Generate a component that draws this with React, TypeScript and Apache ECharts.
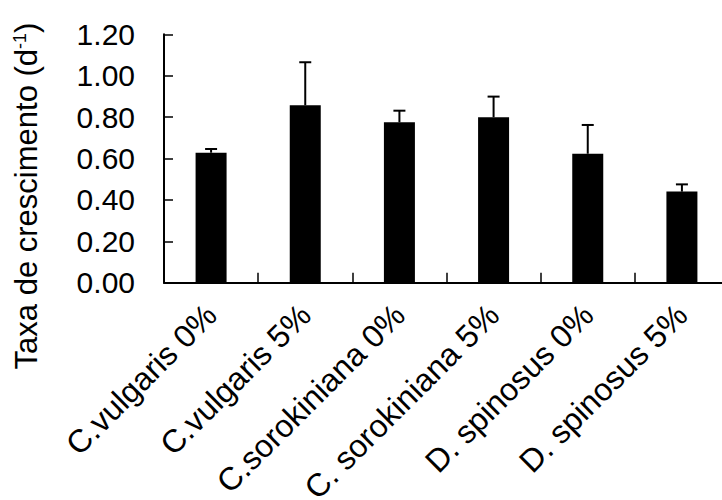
import React, { useEffect, useRef } from "react";
import * as echarts from "echarts";

const categories = [
  "C.vulgaris 0%",
  "C.vulgaris 5%",
  "C.sorokiniana 0%",
  "C. sorokiniana 5%",
  "D. spinosus 0%",
  "D. spinosus 5%",
];
const rates = [0.628, 0.857, 0.775, 0.799, 0.623, 0.44];
const errors = [0.018, 0.208, 0.056, 0.1, 0.139, 0.035];
const yTicks = [0, 0.2, 0.4, 0.6, 0.8, 1.0, 1.2];

const FONT = "'Liberation Sans', Arial, Helvetica, sans-serif";

export default function App() {
  const ref = useRef<HTMLDivElement>(null);
  useEffect(() => {
    if (!ref.current) return;
    const chart = echarts.init(ref.current, undefined, { renderer: "svg" });
    chart.setOption({
      animation: false,
      backgroundColor: "#ffffff",
      grid: {
        left: 164,
        top: 34.3,
        width: 565,
        bottom: 217.3,
        containLabel: false,
        outerBoundsMode: "none",
      },
      xAxis: {
        type: "category",
        data: categories,
        boundaryGap: true,
        axisLine: { show: true, lineStyle: { color: "#000", width: 2 } },
        axisTick: { show: true, inside: true, length: 10, lineStyle: { color: "#000", width: 1.5 } },
        axisLabel: {
          interval: 0,
          rotate: 45,
          margin: 27,
          color: "#000",
          fontSize: 32,
          fontFamily: FONT,
        },
        splitLine: { show: false },
      },
      yAxis: {
        type: "value",
        min: yTicks[0],
        max: yTicks[yTicks.length - 1],
        interval: 0.2,
        axisLine: { show: true, lineStyle: { color: "#000", width: 2 } },
        axisTick: { show: true, inside: true, length: 9, lineStyle: { color: "#000", width: 1.5 } },
        axisLabel: {
          margin: 29,
          color: "#000",
          fontSize: 30,
          fontFamily: FONT,
          formatter: (v: number) => v.toFixed(2),
        },
        splitLine: { show: false },
      },
      graphic: [
        {
          type: "text",
          x: 26,
          y: 196,
          rotation: Math.PI / 2,
          style: {
            text: "Taxa de crescimento (d{sup|-1})",
            fontSize: 31,
            fontFamily: FONT,
            fill: "#000",
            textAlign: "center",
            textVerticalAlign: "middle",
            rich: {
              sup: { fontSize: 18, verticalAlign: "top", fontFamily: FONT, fill: "#000" },
            },
          },
        },
      ],
      series: [
        {
          type: "bar",
          data: rates,
          barWidth: 31,
          itemStyle: { color: "#000" },
          silent: true,
        },
        {
          type: "custom",
          silent: true,
          data: categories.map((_, i) => [i, rates[i], errors[i]]),
          renderItem: (params: any, api: any) => {
            const x = api.value(0);
            const v = api.value(1);
            const e = api.value(2);
            const top = api.coord([x, v + e]);
            const base = api.coord([x, v]);
            return {
              type: "group",
              children: [
                {
                  type: "line",
                  shape: { x1: top[0], y1: top[1], x2: base[0], y2: base[1] },
                  style: { stroke: "#000", lineWidth: 2 },
                },
                {
                  type: "line",
                  shape: { x1: top[0] - 6, y1: top[1], x2: top[0] + 6, y2: top[1] },
                  style: { stroke: "#000", lineWidth: 2 },
                },
              ],
            };
          },
          z: 3,
        },
      ],
    });
    return () => chart.dispose();
  }, []);
  return (
    <div
      ref={ref}
      style={{ position: "fixed", left: 0, top: 0, width: 722, height: 500, background: "#fff" }}
    />
  );
}
